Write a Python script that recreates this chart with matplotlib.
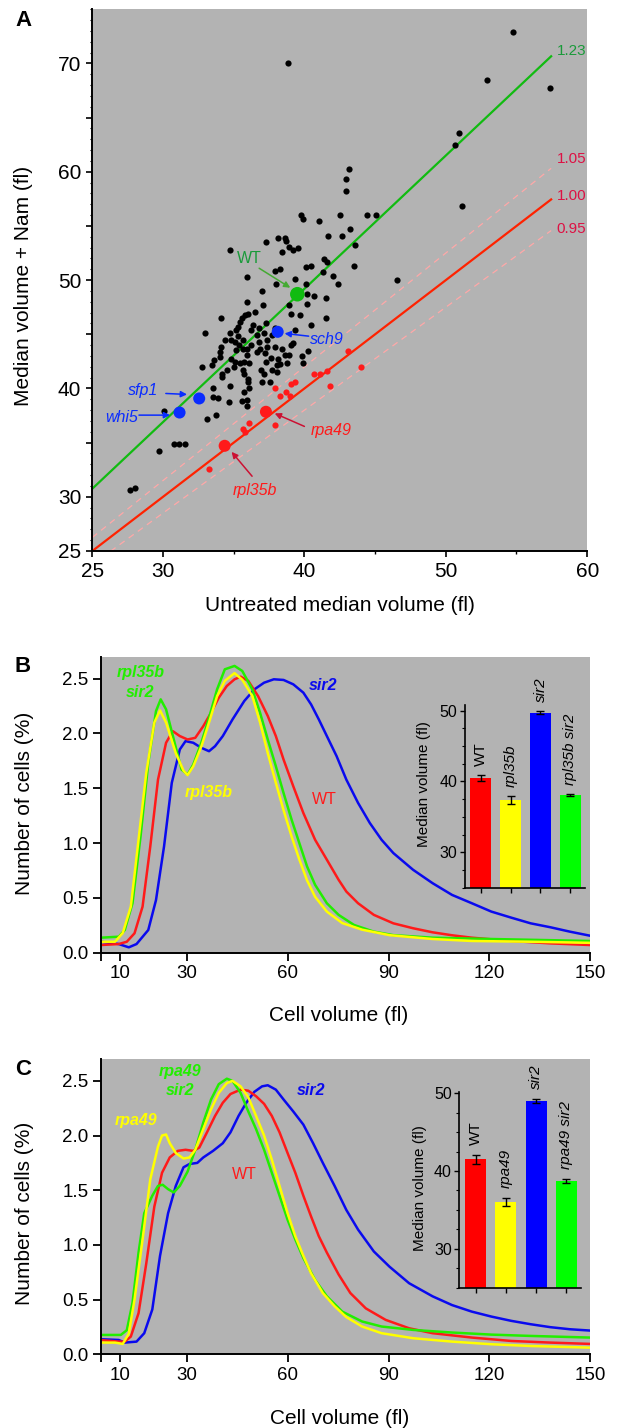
import matplotlib
matplotlib.use("Agg")
import numpy as np
import matplotlib.pyplot as plt
from matplotlib.ticker import MultipleLocator, FixedLocator

plt.rcParams['font.family'] = ['Liberation Sans', 'DejaVu Sans']

# ---------------- panel A data ----------------
# untreated median volume vs median volume + Nam, all strains (black)
mut_x = [38.81, 54.78, 52.92, 57.36, 50.92, 50.64, 51.14, 43.14, 42.97, 42.92,
         39.78, 39.89, 41.0, 42.53, 44.44, 45.03, 43.25, 42.64, 41.64, 43.56,
         43.5, 46.53, 34.72, 37.28, 38.14, 38.61, 38.69, 38.89, 39.17, 39.58,
         38.44, 35.97, 37.92, 38.25, 37.03, 38.0, 39.36, 40.11, 40.14, 40.5,
         41.33, 41.42, 41.61, 42.0, 42.39, 40.17, 40.69, 41.5,
         35.97, 37.08, 36.53, 36.03, 38.89, 39.08, 39.72, 40.19, 41.5, 40.47,
         39.36, 39.17, 39.03, 40.28, 39.86, 39.92, 38.89, 38.61, 38.75, 38.11,
         38.06, 38.06, 37.58, 37.03, 37.69, 37.28, 36.94, 37.14, 37.22, 37.36,
         37.36, 37.69, 37.31, 37.14, 36.67, 36.81, 36.67, 36.86, 36.25, 35.97,
         35.92, 35.75, 36.11, 35.64, 35.75, 36.03, 36.03, 36.11, 35.75, 35.56,
         35.97, 35.92, 34.64, 33.89, 33.56, 33.56, 34.17, 34.17, 33.47, 32.75,
         34.72, 35.08, 34.81, 35.14, 35.36, 35.08, 34.81, 34.03, 34.08, 34.03,
         34.36, 34.72, 35.14, 35.28, 35.47, 35.61, 35.83, 35.28, 32.97, 34.11,
         35.64, 35.69, 36.39, 36.25, 36.81, 37.92, 37.92, 38.42, 38.25, 37.64,
         35.47, 35.0, 34.53, 33.64, 33.75, 33.14, 30.08, 29.72, 30.78, 31.11,
         31.58, 27.64, 28.03]
mut_y = [70.0, 72.95, 68.46, 67.72, 63.54, 62.43, 56.86, 60.28, 59.35, 58.25,
         56.03, 55.66, 55.48, 55.97, 55.97, 55.97, 54.71, 54.09, 54.03, 53.29,
         51.29, 50.0, 52.8, 53.51, 53.88, 53.88, 53.57, 53.02, 52.77, 52.95,
         52.58, 50.31, 50.86, 51.05, 48.98, 49.69, 50.15, 49.69, 51.17, 51.29,
         50.74, 51.91, 51.72, 50.37, 49.6, 48.68, 48.52, 48.37,
         47.94, 47.69, 47.08, 46.92, 47.69, 46.92, 46.77, 47.78, 46.46, 45.85,
         45.38, 44.22, 44.0, 43.48, 42.98, 42.31, 43.08, 43.08, 42.31, 42.71,
         42.15, 41.54, 40.62, 40.62, 41.69, 42.46, 41.69, 41.38, 43.23, 43.85,
         44.46, 44.92, 46.06, 45.14, 44.92, 44.31, 43.38, 43.69, 44.0, 43.69,
         43.08, 42.46, 42.31, 41.75, 41.38, 40.92, 40.62, 40.0, 39.69, 38.86,
         38.98, 38.37, 38.77, 39.08, 39.17, 40.0, 41.08, 41.32, 42.15, 41.94,
         40.22, 42.46, 42.68, 43.54, 44.0, 44.31, 44.46, 43.38, 43.85, 42.92,
         44.46, 45.14, 45.38, 45.69, 46.15, 46.55, 46.77, 44.83, 45.14, 46.46,
         44.46, 43.69, 45.85, 45.38, 45.54, 45.54, 43.85, 43.69, 42.22, 42.77,
         42.31, 42.0, 41.75, 42.62, 37.54, 37.14, 37.94, 34.22, 34.92, 34.92,
         34.86, 30.62, 30.86]

# ribosome / Pol I mutants (small red)
rib_x = [37.92, 38.25, 38.67, 38.97, 39.03, 39.36, 40.69, 41.11, 41.58, 43.11,
         43.97, 41.81, 35.69, 35.83, 36.06, 37.92, 33.25]
rib_y = [40.0, 39.32, 39.63, 39.32, 40.37, 40.62, 41.38, 41.38, 41.63, 43.48,
         42.0, 40.22, 36.25, 36.0, 36.86, 36.62, 32.55]

# highlighted strains
hl_names = ['WT', 'sch9', 'sfp1', 'whi5', 'rpa49', 'rpl35b']
hl_x = [39.5, 38.11, 32.56, 31.17, 37.28, 34.36]
hl_y = [48.7, 45.23, 39.08, 37.78, 37.85, 34.71]
hl_colors = ['#11bb11', '#0a2cff', '#0a2cff', '#0a2cff', '#ff1a1a', '#ff1a1a']
hl_sizes = [110, 75, 75, 75, 75, 75]

slopes = [1.23, 1.05, 1.00, 0.95]
slope_labels = ['1.23', '1.05', '1.00', '0.95']

# ---------------- panel B data ----------------
b_wt_x = [4.3, 9.6, 12.0, 14.3, 16.7, 19.0, 21.3, 23.7, 25.7, 27.8, 30.1, 32.4, 34.8,
          37.1, 39.4, 41.8, 44.1, 45.9, 48.2, 51.1, 54.0, 56.4, 58.7, 61.6, 64.6, 68.1,
          71.6, 75.1, 77.4, 80.9, 85.6, 91.4, 97.3, 103.1, 108.9, 114.8, 126.5, 138.2, 150]
b_wt_y = [0.07, 0.079, 0.10, 0.177, 0.42, 0.97, 1.579, 1.915, 2.021, 1.976, 1.945, 1.96,
          2.067, 2.189, 2.326, 2.433, 2.494, 2.518, 2.479, 2.341, 2.159, 1.976, 1.762,
          1.518, 1.274, 1.03, 0.848, 0.665, 0.558, 0.451, 0.345, 0.268, 0.223, 0.186,
          0.159, 0.137, 0.107, 0.085, 0.07]
b_rpl_x = [4.3, 8.5, 10.8, 13.2, 15.5, 17.8, 20.2, 21.9, 23.7, 26.6, 28.9, 30.1, 31.8,
           34.2, 36.5, 38.9, 41.2, 44.1, 46.4, 49.4, 51.7, 54.0, 56.4, 58.7, 61.1, 63.4,
           65.7, 68.1, 71.6, 76.2, 82.1, 90.3, 103.1, 114.8, 132.3, 150]
b_rpl_y = [0.10, 0.10, 0.18, 0.42, 1.03, 1.64, 2.10, 2.21, 2.10, 1.82, 1.66, 1.62, 1.70,
           1.88, 2.10, 2.34, 2.48, 2.55, 2.49, 2.34, 2.10, 1.82, 1.55, 1.30, 1.06, 0.85,
           0.66, 0.51, 0.375, 0.27, 0.21, 0.16, 0.125, 0.107, 0.10, 0.09]
b_sir_x = [4.3, 9.6, 12.6, 14.9, 18.4, 20.7, 23.1, 25.4, 27.8, 29.5, 31.8, 34.2, 36.5,
           38.3, 40.6, 43.5, 47.0, 50.0, 52.9, 55.8, 58.7, 61.6, 64.6, 66.9, 69.2, 71.6,
           74.5, 77.4, 80.9, 84.4, 87.9, 91.4, 97.3, 103.1, 108.9, 114.8, 120.6, 126.5,
           132.3, 138.2, 144.0, 150]
b_sir_y = [0.10, 0.079, 0.049, 0.079, 0.207, 0.48, 0.97, 1.549, 1.854, 1.93, 1.915,
           1.869, 1.838, 1.884, 1.976, 2.128, 2.296, 2.402, 2.463, 2.494, 2.488, 2.448,
           2.372, 2.265, 2.128, 1.976, 1.793, 1.579, 1.366, 1.183, 1.03, 0.909, 0.756,
           0.634, 0.527, 0.451, 0.375, 0.32, 0.268, 0.232, 0.192, 0.155]
b_dbl_x = [4.3, 9.6, 11.4, 13.7, 16.1, 18.4, 20.7, 22.1, 23.7, 26.0, 28.3, 30.1, 31.8,
           34.2, 36.5, 38.9, 41.2, 44.1, 46.4, 49.4, 51.7, 54.0, 56.4, 58.7, 61.1, 63.4,
           65.7, 68.1, 71.6, 75.1, 79.7, 85.6, 91.4, 103.1, 120.6, 150]
b_dbl_y = [0.137, 0.146, 0.207, 0.451, 1.061, 1.732, 2.204, 2.311, 2.22, 1.945, 1.671,
           1.625, 1.716, 1.915, 2.143, 2.402, 2.585, 2.616, 2.57, 2.402, 2.189, 1.945,
           1.701, 1.457, 1.213, 1.0, 0.787, 0.619, 0.451, 0.345, 0.253, 0.192, 0.16,
           0.137, 0.125, 0.107]

b_bar_names = ['WT', 'rpl35b', 'sir2', 'rpl35b sir2']
b_bar_vals = [40.47, 37.42, 49.72, 38.12]
b_bar_err = [0.47, 0.56, 0.2, 0.15]

# ---------------- panel C data ----------------
c_wt_x = [4.3, 9.6, 11.4, 13.2, 15.5, 17.8, 20.2, 22.5, 24.8, 27.2, 29.5, 31.8, 33.6,
          35.9, 38.3, 40.6, 42.9, 45.9, 48.2, 50.5, 52.9, 55.2, 57.5, 59.9, 62.2, 64.6,
          66.9, 69.2, 71.6, 75.1, 78.6, 83.2, 89.1, 96.1, 103.1, 114.8, 126.5, 138.2, 150]
c_wt_y = [0.13, 0.116, 0.116, 0.162, 0.376, 0.83, 1.35, 1.66, 1.80, 1.86, 1.87, 1.86,
          1.89, 2.03, 2.18, 2.3, 2.38, 2.42, 2.41, 2.36, 2.29, 2.18, 2.03, 1.84, 1.66,
          1.45, 1.26, 1.08, 0.93, 0.73, 0.56, 0.42, 0.315, 0.238, 0.193, 0.153, 0.122,
          0.107, 0.095]
c_rpa_x = [4.3, 8.5, 10.8, 12.6, 14.3, 16.7, 19.0, 21.3, 22.5, 23.7, 24.8, 26.6, 28.9,
           30.7, 32.4, 34.8, 37.1, 39.4, 41.8, 43.5, 45.9, 48.2, 50.5, 52.9, 55.2, 57.5,
           59.9, 62.2, 64.6, 66.9, 70.4, 73.9, 77.4, 82.1, 87.9, 97.3, 108.9, 120.6,
           132.3, 150]
c_rpa_y = [0.107, 0.107, 0.095, 0.19, 0.5, 1.05, 1.6, 1.9, 2.0, 2.01, 1.93, 1.84, 1.79,
           1.80, 1.87, 2.06, 2.24, 2.39, 2.48, 2.5, 2.45, 2.35, 2.18, 2.0, 1.78, 1.54,
           1.29, 1.08, 0.9, 0.74, 0.56, 0.44, 0.34, 0.254, 0.193, 0.147, 0.116, 0.092,
           0.076, 0.061]
c_sir_x = [4.3, 9.6, 11.4, 14.9, 17.2, 19.6, 21.9, 24.3, 26.6, 28.9, 30.7, 33.0, 34.8,
           37.7, 40.6, 42.9, 45.3, 47.6, 50.0, 52.3, 54.0, 56.4, 58.7, 61.6, 64.6, 67.5,
           70.4, 73.9, 77.4, 80.9, 85.6, 90.3, 96.1, 103.1, 108.9, 114.8, 120.6, 126.5,
           132.3, 138.2, 144.0, 150]
c_sir_y = [0.138, 0.131, 0.107, 0.116, 0.193, 0.41, 0.9, 1.29, 1.54, 1.71, 1.74, 1.75,
           1.80, 1.86, 1.93, 2.03, 2.18, 2.3, 2.4, 2.45, 2.46, 2.42, 2.33, 2.22, 2.1,
           1.93, 1.75, 1.54, 1.32, 1.14, 0.94, 0.80, 0.65, 0.53, 0.45, 0.39, 0.345,
           0.306, 0.275, 0.248, 0.229, 0.217]
c_dbl_x = [4.3, 10.2, 12.0, 13.7, 15.5, 17.2, 19.6, 21.3, 22.7, 24.3, 26.0, 27.8, 30.1,
           32.4, 34.8, 37.1, 39.4, 41.8, 43.5, 45.9, 48.2, 50.5, 52.9, 55.2, 57.5, 59.9,
           62.2, 64.6, 68.1, 71.6, 76.2, 82.1, 87.9, 97.3, 108.9, 120.6, 132.3, 150]
c_dbl_y = [0.177, 0.177, 0.22, 0.47, 0.93, 1.29, 1.45, 1.54, 1.55, 1.51, 1.48, 1.54,
           1.67, 1.87, 2.12, 2.33, 2.47, 2.52, 2.5, 2.39, 2.22, 2.06, 1.87, 1.66, 1.45,
           1.23, 1.05, 0.88, 0.68, 0.53, 0.39, 0.30, 0.254, 0.223, 0.199, 0.18, 0.168,
           0.153]

c_bar_names = ['WT', 'rpa49', 'sir2', 'rpa49 sir2']
c_bar_vals = [41.5, 36.04, 49.0, 38.7]
c_bar_err = [0.6, 0.5, 0.2, 0.3]

GRAY = '#b3b3b3'
RED = '#ff1a1a'
YEL = '#ffff00'
BLUE = '#0a0aee'
GREEN = '#22ee00'
BAR_COLORS = ['#ff0000', '#ffff00', '#0000ff', '#00ff00']

fig = plt.figure(figsize=(6.17, 14.28), dpi=100)


def style_axes(ax, lw=1.4):
    ax.set_facecolor(GRAY)
    for s in ['top', 'right']:
        ax.spines[s].set_visible(False)
    for s in ['left', 'bottom']:
        ax.spines[s].set_linewidth(lw)


# ================= panel A =================
axA = fig.add_axes([0.1496, 0.61415, 0.8021, 0.37934])
style_axes(axA)
axA.set_xlim(25, 60)
axA.set_ylim(25, 75)

x_end = 57.45
line_x = np.array([25, x_end])
for k, lab in zip(slopes, slope_labels):
    if k == 1.23:
        axA.plot(line_x, k * line_x, color='#11bb11', lw=1.6, zorder=2)
        tc = '#1a9a3a'
    elif k == 1.00:
        axA.plot(line_x, k * line_x, color='#ff2200', lw=1.6, zorder=2)
        tc = '#dd1144'
    else:
        axA.plot(line_x, k * line_x, color='#ffa8a8', lw=0.9, ls=(0, (5, 4)), zorder=2)
        tc = '#dd1144'
    off = {1.23: 0.5, 1.05: 0.85, 1.00: 0.3, 0.95: 0.1}[k]
    axA.text(58.9, k * x_end + off, lab, color=tc, fontsize=11, ha='center', va='center')

axA.scatter(mut_x, mut_y, s=20, color='black', lw=0, zorder=3)
axA.scatter(rib_x, rib_y, s=20, color='#ff1a1a', lw=0, zorder=3)
axA.scatter(hl_x, hl_y, s=hl_sizes, color=hl_colors, lw=0, zorder=4)

# annotations
arrow_kw = dict(arrowstyle='-|>', lw=1.1, mutation_scale=9, shrinkA=0, shrinkB=0)
axA.text(36.1, 52.0, 'WT', color='#1a9a3a', fontsize=11.5, ha='center', va='center')
axA.annotate('', xy=(39.0, 49.3), xytext=(36.8, 51.1),
             arrowprops=dict(color='#44aa33', **arrow_kw))
axA.text(41.6, 44.5, 'sch9', color='#0a2cff', fontsize=11.5, style='italic',
         ha='center', va='center')
axA.annotate('', xy=(38.6, 45.08), xytext=(40.3, 44.83),
             arrowprops=dict(color='#0a2cff', **arrow_kw))
axA.text(28.6, 39.85, 'sfp1', color='#0a2cff', fontsize=11.5, style='italic',
         ha='center', va='center')
axA.annotate('', xy=(31.7, 39.45), xytext=(30.2, 39.54),
             arrowprops=dict(color='#0a2cff', **arrow_kw))
axA.text(27.1, 37.32, 'whi5', color='#0a2cff', fontsize=11.5, style='italic',
         ha='center', va='center')
axA.annotate('', xy=(30.5, 37.54), xytext=(28.3, 37.54),
             arrowprops=dict(color='#0a2cff', **arrow_kw))
axA.text(41.9, 36.1, 'rpa49', color='#ff1a1a', fontsize=11.5, style='italic',
         ha='center', va='center')
axA.annotate('', xy=(37.9, 37.7), xytext=(40.0, 36.5),
             arrowprops=dict(color='#cc1133', **arrow_kw))
axA.text(36.5, 30.55, 'rpl35b', color='#ff1a1a', fontsize=11.5, style='italic',
         ha='center', va='center')
axA.annotate('', xy=(34.85, 34.15), xytext=(36.3, 31.9),
             arrowprops=dict(color='#cc1133', **arrow_kw))

axA.set_xticks([25, 30, 40, 50, 60])
axA.xaxis.set_minor_locator(FixedLocator([35, 45, 55]))
yt = list(range(25, 75, 5))
axA.set_yticks(yt)
axA.set_yticklabels([str(v) if (v == 25 or v % 10 == 0) else '' for v in yt])
axA.yaxis.set_minor_locator(MultipleLocator(1))
axA.tick_params(which='major', length=4, width=1.2, labelsize=15, pad=4)
axA.tick_params(axis='x', which='minor', length=2.5, width=1.0)
axA.tick_params(axis='y', which='minor', length=1.3, width=0.8)
axA.set_xlabel('Untreated median volume (fl)', fontsize=15, va='center')
axA.xaxis.set_label_coords(0.5, -0.1015)
axA.set_ylabel('Median volume + Nam (fl)', fontsize=15, va='center')
axA.yaxis.set_label_coords(-0.139, 0.49)
fig.text(23.6 / 617, 1 - 20 / 1428, 'A', fontsize=16, fontweight='bold',
         ha='center', va='center')


# ================= panels B and C =================
def dist_panel(rect, curves, texts, ylab_y, xlab_x, xlab_y):
    ax = fig.add_axes(rect)
    style_axes(ax)
    for cx, cy, col in curves:
        ax.plot(cx, cy, color=col, lw=1.8, solid_joinstyle='round')
    ax.set_xlim(4.3, 150)
    ax.set_ylim(0, 2.7)
    ax.set_xticks([4.3, 10, 30, 60, 90, 120, 150])
    ax.set_xticklabels(['', '10', '30', '60', '90', '120', '150'])
    ax.set_yticks([0, 0.5, 1.0, 1.5, 2.0, 2.5])
    ax.set_yticklabels(['0.0', '0.5', '1.0', '1.5', '2.0', '2.5'])
    ax.tick_params(length=6, width=1.3, labelsize=13.5, pad=3)
    for tx, ty, s, col, bold, ital in texts:
        ax.text(tx, ty, s, color=col, fontsize=11.5,
                fontweight='bold' if bold else 'normal',
                style='italic' if ital else 'normal', ha='center', va='center')
    ax.set_xlabel('Cell volume (fl)', fontsize=15, va='center')
    ax.xaxis.set_label_coords(xlab_x, xlab_y)
    ax.set_ylabel('Number of cells (%)', fontsize=15, va='center')
    ax.yaxis.set_label_coords(-0.156, ylab_y)
    return ax


def bar_inset(rect, names, vals, errs, ylim, ylab_xy):
    ax = fig.add_axes(rect)
    ax.set_facecolor('none')
    for s in ['top', 'right']:
        ax.spines[s].set_visible(False)
    for s in ['left', 'bottom']:
        ax.spines[s].set_linewidth(1.2)
    pos = np.arange(len(vals))
    ax.bar(pos, vals, width=0.69, color=BAR_COLORS, yerr=errs, capsize=3.2,
           error_kw=dict(elinewidth=1.0, capthick=1.0, ecolor='black'))
    ax.set_xlim(-0.53, 3.49)
    ax.set_ylim(*ylim)
    ax.set_xticks(pos)
    ax.set_xticklabels([])
    ax.set_yticks([30, 40, 50])
    ax.yaxis.set_minor_locator(MultipleLocator(2.5))
    ax.tick_params(which='major', length=3.5, width=1.0, labelsize=11.5, pad=2)
    ax.tick_params(which='minor', length=2, width=0.8)
    for i, (n, v, e) in enumerate(zip(names, vals, errs)):
        ax.text(i, v + e + 1.3, n, rotation=90, ha='center', va='bottom',
                fontsize=11, style='normal' if n == 'WT' else 'italic',
                clip_on=False)
    ax.set_ylabel('Median volume (fl)', fontsize=11, va='center')
    ax.yaxis.set_label_coords(*ylab_xy)
    return ax


dist_panel([0.1636, 0.33284, 0.7927, 0.20728],
           [(b_sir_x, b_sir_y, BLUE), (b_wt_x, b_wt_y, RED),
            (b_dbl_x, b_dbl_y, GREEN), (b_rpl_x, b_rpl_y, YEL)],
           [(16.1, 2.555, 'rpl35b', GREEN, True, True),
            (16.1, 2.378, 'sir2', GREEN, True, True),
            (36.5, 1.457, 'rpl35b', YEL, True, True),
            (71.0, 1.396, 'WT', RED, False, False),
            (70.6, 2.44, 'sir2', BLUE, True, True)],
           0.505, 0.485, -0.2105)
bar_inset([0.7531, 0.37836, 0.1953, 0.12794], b_bar_names, b_bar_vals, b_bar_err,
          (25, 50.8), (-0.338, 0.57))
fig.text(22.8 / 617, 1 - 666 / 1428, 'B', fontsize=16, fontweight='bold',
         ha='center', va='center')

dist_panel([0.1636, 0.05161, 0.7927, 0.20679],
           [(c_sir_x, c_sir_y, BLUE), (c_wt_x, c_wt_y, RED),
            (c_dbl_x, c_dbl_y, GREEN), (c_rpa_x, c_rpa_y, YEL)],
           [(27.8, 2.59, 'rpa49', GREEN, True, True),
            (27.8, 2.41, 'sir2', GREEN, True, True),
            (14.7, 2.14, 'rpa49', YEL, True, True),
            (47.0, 1.64, 'WT', RED, False, False),
            (66.9, 2.41, 'sir2', BLUE, True, True)],
           0.478, 0.489, -0.2167)
bar_inset([0.7447, 0.09825, 0.1974, 0.13725], c_bar_names, c_bar_vals, c_bar_err,
          (25, 50.2), (-0.322, 0.507))
fig.text(22.8 / 617, 1 - 1069.3 / 1428, 'C', fontsize=16, fontweight='bold',
         ha='center', va='center')

fig.savefig('out.png', dpi=100)
